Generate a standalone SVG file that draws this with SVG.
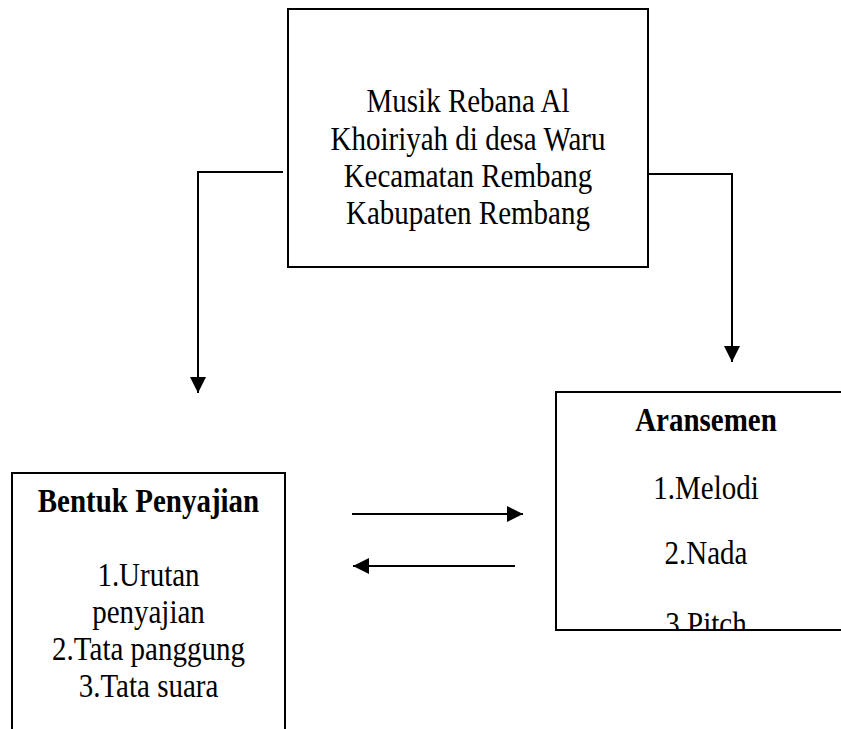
<svg xmlns="http://www.w3.org/2000/svg" width="841" height="729" viewBox="0 0 841 729">
<style>
.box{fill:#fff;stroke:#000;stroke-width:2}
.t{font-family:"Liberation Serif","Times New Roman",serif;font-size:29px;fill:#000;text-anchor:middle}
.b{font-weight:bold}
.c{fill:none;stroke:#000;stroke-width:2}
</style>
<defs>
<marker id="ah" viewBox="0 0 16 16" refX="16" refY="8" markerWidth="16" markerHeight="16" markerUnits="userSpaceOnUse" orient="auto">
<path d="M0,0 L16,8 L0,16 z" fill="#000"/>
</marker>
<clipPath id="clipR"><rect x="556" y="392" width="290" height="238"/></clipPath>
</defs>
<rect width="841" height="729" fill="#fff"/>
<g id="connectors">
<path class="c" d="M283,172 H198 V393" marker-end="url(#ah)"/>
<path class="c" d="M648,174 H732 V362" marker-end="url(#ah)"/>
<path class="c" d="M352,514 H523" marker-end="url(#ah)"/>
<path class="c" d="M515,566 H353" marker-end="url(#ah)"/>
</g>
<g id="node-top">
<rect class="box" x="288" y="9" width="360" height="258"/>
<text class="t" transform="translate(468,112) scale(1,1.18)">Musik Rebana Al</text>
<text class="t" transform="translate(468,150) scale(1,1.18)">Khoiriyah di desa Waru</text>
<text class="t" transform="translate(468,187) scale(1,1.18)">Kecamatan Rembang</text>
<text class="t" transform="translate(468,224) scale(1,1.18)">Kabupaten Rembang</text>
</g>
<g id="node-bentuk">
<path class="box" d="M12,735 V473 H285 V735"/>
<text class="t b" transform="translate(148.5,512) scale(1,1.18)">Bentuk Penyajian</text>
<text class="t" transform="translate(148.5,586) scale(1,1.18)">1.Urutan</text>
<text class="t" transform="translate(148.5,623) scale(1,1.18)">penyajian</text>
<text class="t" transform="translate(148.5,660) scale(1,1.18)">2.Tata panggung</text>
<text class="t" transform="translate(148.5,697) scale(1,1.18)">3.Tata suara</text>
</g>
<g id="node-aransemen">
<rect class="box" x="556" y="392" width="300" height="238"/>
<g clip-path="url(#clipR)">
<text class="t b" transform="translate(706,431) scale(1,1.18)">Aransemen</text>
<text class="t" transform="translate(706,499) scale(1,1.18)">1.Melodi</text>
<text class="t" transform="translate(706,564) scale(1,1.18)">2.Nada</text>
<text class="t" transform="translate(706,635) scale(1,1.18)">3.Pitch</text>
</g>
</g>
</svg>
